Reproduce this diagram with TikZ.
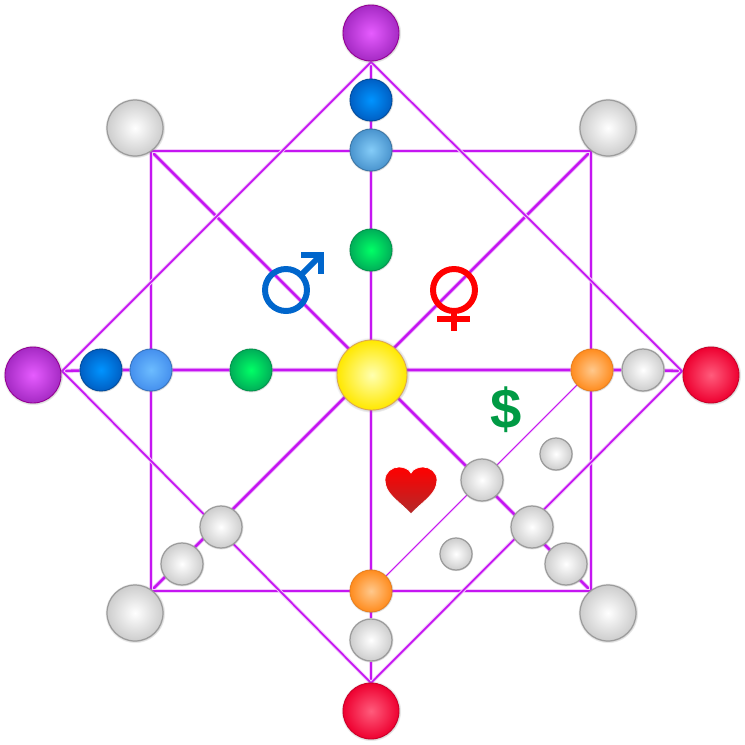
\documentclass[tikz,border=0pt]{standalone}
\usepackage{fontspec}
\usepackage{tikz}
\usetikzlibrary{backgrounds}
\usetikzlibrary{shadows}
\usetikzlibrary{fadings}
\definecolor{linkpurple}{HTML}{C516F2}
\definecolor{linkhalo}{HTML}{F3CDFB}
\definecolor{malecolor}{HTML}{0066CC}
\newfontfamily\dollarfont{Liberation Sans}
\tikzset {
  link/.style = {
    draw = linkpurple,
    line width = 1.45pt,
    preaction = {draw = linkhalo, line width = 2.6pt}
  },
  % path style for the outer square and the diamond
  thin link/.style = {
    draw = linkpurple,
    line width = 1pt,
    preaction = {draw = linkhalo, line width = 2.1pt}
  },
  hair link/.style = {
    draw = linkpurple,
    line width = 0.55pt,
    preaction = {draw = linkhalo, line width = 1.2pt}
  }
}
\tikzset {
  ball/.style = {
    circle,
    inner sep = 0,
    line width = 0.5pt,
    circular drop shadow={shadow xshift=0pt,shadow yshift=0pt,shadow scale=1.08,opacity=0.65}
  },
  % sizes of the balls
  sun ball/.style = {ball, minimum size = 1.4cm},
  big ball/.style = {ball, minimum size = 1.12cm},
  mid ball/.style = {ball, minimum size = 0.84cm},
  small ball/.style = {ball, minimum size = 0.64cm},
  % colours of the balls
  purple/.style = {draw = black!40!violet!60!magenta, inner color = purple-in, outer color = purple-out},
  blue-ball/.style = {draw = blue-out!80!black, inner color = blue-in, outer color = blue-out},
  sky/.style = {draw = sky-out!80!black, inner color = sky-in, outer color = sky-out},
  sky-left/.style = {draw = sky-left-out!80!black, inner color = sky-left-in, outer color = sky-left-out},
  green-ball/.style = {draw = green-out!85!black, inner color = green-in, outer color = green-out},
  yellow-ball/.style = {draw = yellow-edge, inner color = yellow-in, outer color = yellow-out},
  orange-ball/.style = {draw = orange-edge, inner color = orange-in, outer color = orange-out},
  red-ball/.style = {draw = red-out!85!black, inner color = red-in, outer color = red-out},
  gray-ball/.style = {draw = gray-edge, line width = 0.7pt, inner color = white, outer color = gray-out},
  % gender signs
  sign ring/.style = {
    draw = #1,
    circle,
    line width = 3.4pt,
    minimum size = 0.84cm,
    inner sep = 0,
    outer sep = 0
  },
  sign bar/.style = {
    draw = #1,
    line width = 3.4pt
  },
  dollar sign/.style = {
    font = \dollarfont\bfseries\fontsize{32}{32}\selectfont,
    text = dollar-mid,
    inner sep = 0
  }
}
\definecolor{purple-in}{HTML}{E65CFF}
\definecolor{purple-out}{HTML}{A52AC4}
\definecolor{blue-in}{HTML}{0094FF}
\definecolor{blue-out}{HTML}{005FC4}
\definecolor{sky-in}{HTML}{84CCF8}
\definecolor{sky-out}{HTML}{4A94CE}
\definecolor{sky-left-in}{HTML}{6CBCFF}
\definecolor{sky-left-out}{HTML}{4590EE}
\definecolor{green-in}{HTML}{00FF66}
\definecolor{green-out}{HTML}{00AE58}
\definecolor{yellow-in}{HTML}{FFFFB0}
\definecolor{yellow-out}{HTML}{FFE800}
\definecolor{yellow-edge}{HTML}{DDA850}
\definecolor{orange-in}{HTML}{FFC88C}
\definecolor{orange-out}{HTML}{FF8C1E}
\definecolor{orange-edge}{HTML}{E88020}
\definecolor{red-in}{HTML}{FF5C7C}
\definecolor{red-out}{HTML}{EE0030}
\definecolor{gray-out}{HTML}{CDCDCD}
\definecolor{gray-edge}{HTML}{9C9C9C}
\definecolor{dollar-mid}{HTML}{009A44}
\definecolor{heart-low}{HTML}{B22A2A}
\begin{document}
\begin{tikzpicture}[x = 0.02cm, y = -0.02cm]
    \useasboundingbox (0,0) rectangle (745,745);

    \node[sun ball, yellow-ball] (sun) at (372,375) {};

    \node[big ball, purple] (top-ball) at (371,33) {};
    \node[big ball, purple] (left-ball) at (33,375) {};
    \node[big ball, red-ball] (right-ball) at (711,375) {};
    \node[big ball, red-ball] (bottom-ball) at (371,711) {};
    \node[big ball, gray-ball] (corner-ball-nw) at (135,128) {};
    \node[big ball, gray-ball] (corner-ball-ne) at (608,128) {};
    \node[big ball, gray-ball] (corner-ball-sw) at (135,613) {};
    \node[big ball, gray-ball] (corner-ball-se) at (608,613) {};

    \node[mid ball, blue-ball] (top-blue) at (371,100) {};
    \node[mid ball, sky] (top-sky) at (371,150) {};
    \node[mid ball, green-ball] (top-green) at (371,250) {};
    \node[mid ball, blue-ball] (left-blue) at (101,370) {};
    \node[mid ball, sky-left] (left-sky) at (151,370) {};
    \node[mid ball, green-ball] (left-green) at (251,370) {};
    \node[mid ball, orange-ball] (right-orange) at (592,370) {};
    \node[mid ball, gray-ball] (right-gray) at (643,370) {};
    \node[mid ball, orange-ball] (bottom-orange) at (371,591) {};
    \node[mid ball, gray-ball] (bottom-gray) at (371,640) {};

    \node[mid ball, gray-ball] (sw-inner) at (221,527) {};
    \node[mid ball, gray-ball] (sw-outer) at (182,564) {};
    \node[mid ball, gray-ball] (se-first) at (482,480) {};
    \node[mid ball, gray-ball] (se-second) at (532,527) {};
    \node[mid ball, gray-ball] (se-third) at (566,564) {};
    \node[small ball, gray-ball] (money-ball) at (556,454) {};
    \node[small ball, gray-ball] (love-ball) at (456,554) {};

    \coordinate (top-tip) at (371,62);
    \coordinate (left-tip) at (62,371);
    \coordinate (right-tip) at (682,371);
    \coordinate (bottom-tip) at (371,683);
    \coordinate (corner-nw) at (151,151);
    \coordinate (corner-ne) at (591,151);
    \coordinate (corner-sw) at (151,591);
    \coordinate (corner-se) at (591,591);

    \begin{scope}[on background layer]
      \draw[link] (top-tip) -- (top-blue) -- (top-sky) -- (top-green) -- (top-green |- sun);
      \draw[link] (bottom-orange |- sun) -- (bottom-orange) -- (bottom-gray) -- (bottom-tip);
      \draw[link] (left-tip) -- (left-blue) -- (left-sky) -- (left-green) -- (left-green -| sun);
      \draw[link] (right-orange -| sun) -- (right-orange) -- (right-gray) -- (right-tip);
      \draw[link] (corner-nw) -- (corner-se);
      \draw[link] (corner-ne) -- (corner-sw);
      \draw[thin link] (corner-nw) -- (corner-ne) -- (corner-se) -- (corner-sw) -- cycle;
      \draw[thin link] (top-tip) -- (right-tip) -- (bottom-tip) -- (left-tip) -- cycle;
      \draw[hair link] (right-orange) -- (bottom-orange);
    \end{scope}

    % male sign
    \node[sign ring = malecolor] (male-ring) at (286,290) {};
    \coordinate (male-tip) at (321,255);
    \draw[sign bar = malecolor] (male-ring) -- (male-tip);
    \draw[sign bar = malecolor, miter limit = 4] (301,255) -- (321,255) -- (321,274);

    % female sign
    \node[sign ring = red] (female-ring) at (454,290) {};
    \coordinate (female-foot) at (454,331);
    \draw[sign bar = red] (female-ring) -- (female-foot);
    \draw[sign bar = red] (437,319) -- (470,319);

    % heart
    \path[
      draw = white, line width = 0.4pt,
      top color = red, bottom color = heart-low
    ]
      (411,514) .. controls (398,500) and (385,494) .. (385,480)
      .. controls (385,472) and (392,467) .. (399,467)
      .. controls (404,467) and (409,469) .. (411,473)
      .. controls (413,469) and (418,467) .. (423,467)
      .. controls (430,467) and (437,472) .. (437,480)
      .. controls (437,494) and (424,500) .. (411,514) -- cycle;

    % dollar
    \node[dollar sign] (dollar) at (506,410) {\$};
\end{tikzpicture}
\end{document}
